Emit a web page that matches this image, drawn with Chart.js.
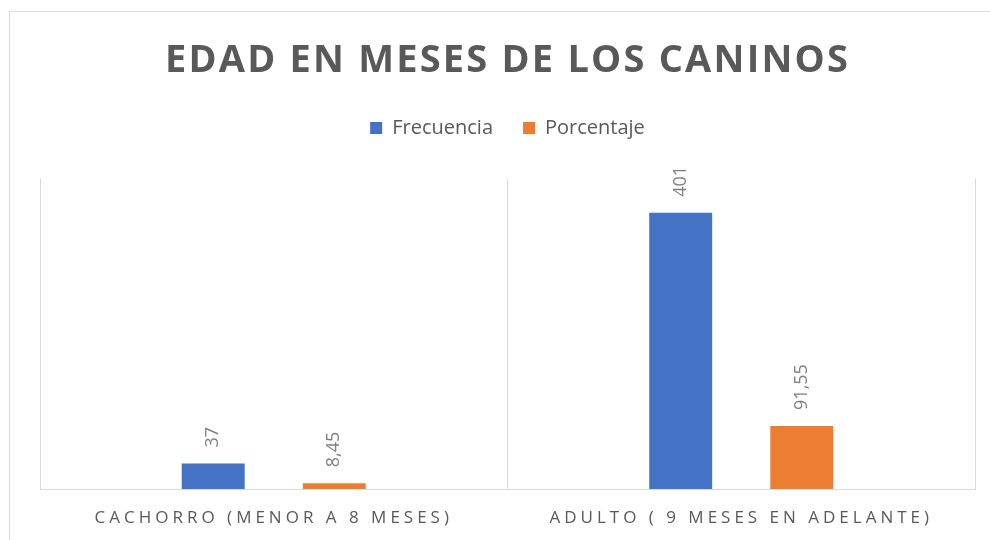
<!DOCTYPE html>
<html>
<head>
<meta charset="utf-8">
<script src="https://cdn.jsdelivr.net/npm/chart.js@4.4.0/dist/chart.umd.min.js"></script>
<style>
  html, body { margin: 0; padding: 0; background: #ffffff; overflow: hidden; }
  #wrap { position: relative; width: 990px; height: 540px; overflow: hidden; }
  #frame { position: absolute; left: 9px; top: 11px; width: 1200px; height: 800px; border: 1px solid #d9d9d9; box-sizing: border-box; }
  #c { position: absolute; left: 0; top: 0; }
</style>
</head>
<body>
<div id="wrap">
  <div id="frame"></div>
  <canvas id="c" width="990" height="540"></canvas>
</div>
<script>
const titleText = 'EDAD EN MESES DE LOS CANINOS';
const categories = ['CACHORRO (MENOR A 8 MESES)', 'ADULTO ( 9 MESES EN ADELANTE)'];
const seriesNames = ['Frecuencia', 'Porcentaje'];
const frecuencia = [37, 401];
const porcentaje = [8.45, 91.55];
const yMin = 0;
const yMax = 450;

const fmt = v => String(v).replace('.', ',');

const spacingPlugin = {
  id: 'spacing',
  beforeDraw(chart) {
    const s = chart.scales.x;
    if (s && !s._spPatched) {
      const orig = s.drawLabels;
      s.drawLabels = function (ca) {
        const c = this.ctx; const prev = c.letterSpacing;
        c.letterSpacing = '4px'; orig.call(this, ca); c.letterSpacing = prev;
      };
      s._spPatched = true;
    }
    const t = chart.titleBlock;
    if (t && !t._spPatched) {
      const origT = t.draw;
      t.draw = function (ca) {
        const c = this.ctx; const prev = c.letterSpacing;
        c.letterSpacing = '2.2px'; origT.call(this, ca); c.letterSpacing = prev;
      };
      t._spPatched = true;
    }
  }
};

const legendHeightPlugin = {
  id: 'legendHeight',
  beforeInit(chart) {
    const origFit = chart.legend.fit;
    chart.legend.fit = function () { origFit.call(this); this.height = 91; };
  }
};

const labelPlugin = {
  id: 'vlabels',
  afterDatasetsDraw(chart) {
    const ctx = chart.ctx;
    chart.data.datasets.forEach((ds, i) => {
      const meta = chart.getDatasetMeta(i);
      meta.data.forEach((bar, j) => {
        ctx.save();
        ctx.translate(bar.x, bar.y - 16);
        ctx.rotate(-Math.PI / 2);
        ctx.font = '18px "Open Sans"';
        ctx.fillStyle = '#7f7f7f';
        ctx.textAlign = 'left';
        ctx.textBaseline = 'middle';
        ctx.fillText(fmt(ds.data[j]), 0, 0);
        ctx.restore();
      });
    });
  }
};

new Chart(document.getElementById('c'), {
  type: 'bar',
  data: {
    labels: categories,
    datasets: [
      { label: seriesNames[0], data: frecuencia, backgroundColor: '#4472C4', categoryPercentage: 0.518, barPercentage: 0.52 },
      { label: seriesNames[1], data: porcentaje, backgroundColor: '#ED7D31', categoryPercentage: 0.518, barPercentage: 0.52 }
    ]
  },
  options: {
    responsive: false,
    animation: false,
    layout: { padding: { left: 40, right: 15, top: 0, bottom: 10 } },
    plugins: {
      title: {
        display: true, text: titleText, color: '#595959',
        font: { family: '"Open Sans"', size: 38, weight: 'bold', lineHeight: 1.2 },
        padding: { top: 38, bottom: 4.4 }
      },
      legend: {
        display: true, position: 'top',
        labels: {
          color: '#595959', boxWidth: 12, boxHeight: 12, padding: 30,
          font: { family: '"Open Sans"', size: 20 }
        }
      },
      tooltip: { enabled: false }
    },
    scales: {
      x: {
        offset: true,
        afterFit(scale) { scale.height = 41; },
        grid: { display: true, color: '#d9d9d9', lineWidth: 1, drawTicks: false, offset: true },
        border: { display: true, color: '#d9d9d9', width: 1 },
        ticks: { color: '#595959', padding: 19, font: { family: '"Open Sans"', size: 17 }, maxRotation: 0, autoSkip: false }
      },
      y: {
        display: false, min: yMin, max: yMax
      }
    }
  },
  plugins: [spacingPlugin, legendHeightPlugin, labelPlugin]
});
</script>
</body>
</html>
